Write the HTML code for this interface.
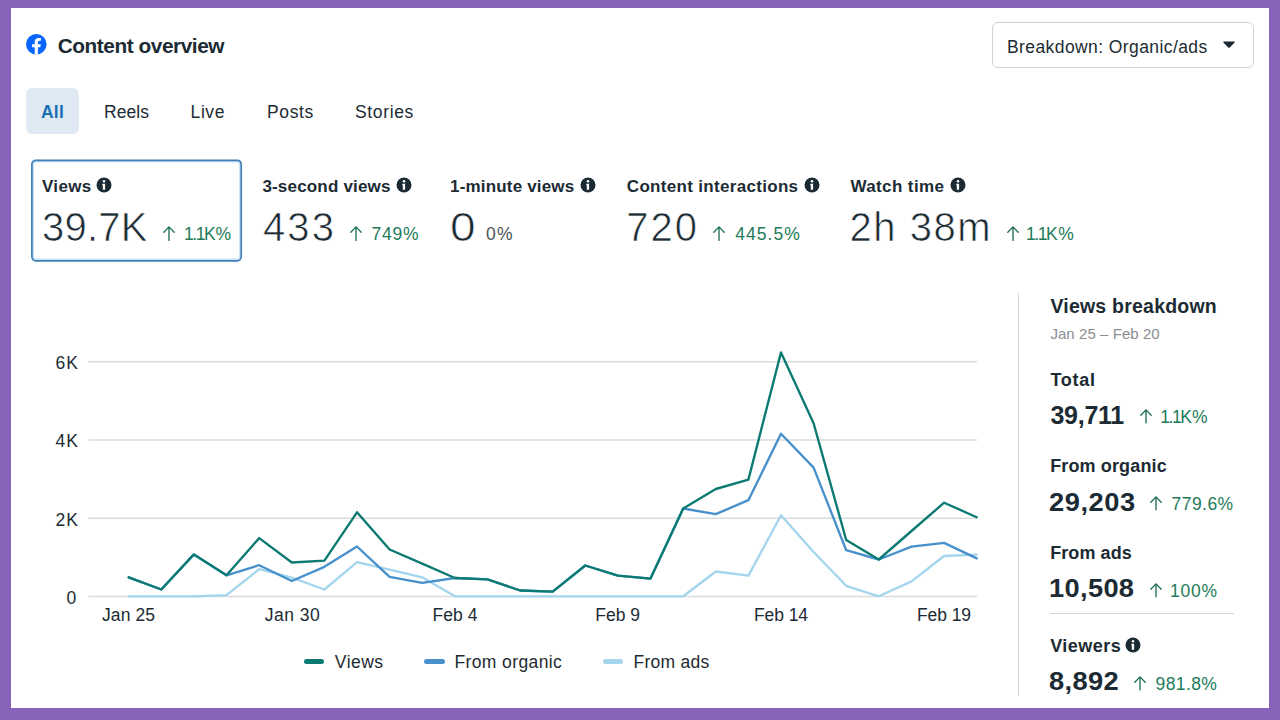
<!DOCTYPE html>
<html><head><meta charset="utf-8"><title>Content overview</title>
<style>
html,body{margin:0;padding:0}
body{width:1280px;height:720px;overflow:hidden;background:#8863ba;font-family:"Liberation Sans",sans-serif;position:relative}
.panel{position:absolute;left:11px;top:8px;width:1258px;height:700px;background:#fff}
.t{position:absolute;white-space:pre;line-height:1}
.a{position:absolute;overflow:visible}
.tab{position:absolute;left:26px;top:88px;width:53px;height:46px;border-radius:6px;background:#dfe9f3}
.dd{position:absolute;left:992px;top:22px;width:260px;height:44px;border:1px solid #ced2d6;border-radius:6px;background:#fff}
.vd{position:absolute;left:1018px;top:293px;width:1px;height:403px;background:#d3d6d9}
.hd{position:absolute;left:1049.5px;top:613px;width:184px;height:1px;background:#d3d6d9}
.lg{position:absolute;height:5px;width:20.5px;border-radius:3px;top:659px}
</style></head><body>
<div class="panel"></div>
<div class="tab"></div>
<div class="dd"></div>
<svg class="a" style="left:0;top:0" width="260" height="270" viewBox="0 0 260 270"><rect x="33.4" y="161.8" width="206.3" height="97.5" rx="2.8" fill="none" stroke="#c9e4fa" stroke-width="1.5"/><rect x="31.9" y="160.3" width="209.3" height="100.5" rx="4" fill="none" stroke="#3f7fb6" stroke-width="1.7"/></svg>
<div class="vd"></div><div class="hd"></div>
<svg class="a" style="left:26px;top:34.400px" width="20.6" height="20.6" viewBox="0 0 36 36"><circle cx="18" cy="18" r="18" fill="#0866ff"/><path d="M25 23l.8-5.2h-5v-3.4c0-1.4.7-2.8 2.9-2.8H26V7.2s-2.1-.4-4-.4c-4.100 0-6.800 2.500-6.800 7v4H10.600V23h4.600v12.800a18 18 0 005.600 0V23z" fill="#fff"/></svg>
<svg class="a" style="left:1222.5px;top:41.300px" width="12" height="7.4" viewBox="0 0 13 8"><path d="M1.200 0.600h10.600c.8 0 1.100.8.600 1.400L7.300 7.100c-.4.500-1.200.5-1.600 0L.6 2C.1 1.400.4.600 1.200.600z" fill="#1c2b33"/></svg>
<svg class="a" style="left:0;top:0" width="1280" height="720" viewBox="0 0 1280 720">
<g stroke="#d9dbdd" stroke-width="1.45"><path d="M88.300 361.700H977M88.300 440H977M88.300 518.300H977M88.300 596.400H977"/></g>
<g fill="none" stroke-width="2.35" stroke-linejoin="round" stroke-linecap="round">
<polyline stroke="#a4d5ee" points="128.7,596.3 161.3,596.3 193.9,596.3 226.5,595.2 259.2,569.2 291.8,577.7 324.4,589.5 357.0,562.1 389.6,569.6 422.2,577.3 454.9,596.3 487.5,596.3 520.1,596.3 552.7,596.3 585.3,596.3 617.9,596.3 650.5,596.3 683.2,596.3 715.8,571.5 748.4,575.6 781.0,515.2 813.6,552.0 846.2,585.8 878.8,596.3 911.5,581.4 944.1,556.0 976.7,554.6"/>
<polyline stroke="#4890cb" points="128.7,577.3 161.3,589.5 193.9,554.4 226.5,575.3 259.2,565.2 291.8,581.0 324.4,566.8 357.0,546.5 389.6,576.9 422.2,582.8 454.9,578.0 487.5,579.4 520.1,590.5 552.7,591.6 585.3,565.5 617.9,575.6 650.5,578.6 683.2,508.5 715.8,514.1 748.4,500.2 781.0,433.8 813.6,467.6 846.2,550.2 878.8,559.5 911.5,546.7 944.1,542.9 976.7,558.4"/>
<polyline stroke="#0b7a72" points="128.7,577.3 161.3,589.5 193.9,554.4 226.5,575.3 259.2,538.1 291.8,562.5 324.4,560.7 357.0,512.3 389.6,549.5 422.2,563.7 454.9,578.0 487.5,579.4 520.1,590.5 552.7,591.6 585.3,565.5 617.9,575.6 650.5,578.6 683.2,508.5 715.8,489.0 748.4,479.6 781.0,352.4 813.6,423.3 846.2,540.0 878.8,559.5 911.5,531.0 944.1,502.7 976.7,517.2"/>
</g></svg>
<div class="lg" style="left:303.800px;background:#0b7a72"></div>
<div class="lg" style="left:424px;background:#4890cb"></div>
<div class="lg" style="left:602.800px;background:#a4d5ee"></div>
<svg class="a" style="left:95.80px;top:177.10px" width="16" height="16" viewBox="0 0 16 16"><circle cx="8" cy="8" r="7.5" fill="#1c2b33"/><circle cx="8" cy="4.2" r="1.25" fill="#fff"/><path d="M6.300 6.800h2.8v6H6.800V8.200H6.300z" fill="#fff"/></svg>
<svg class="a" style="left:395.70px;top:177.10px" width="16" height="16" viewBox="0 0 16 16"><circle cx="8" cy="8" r="7.5" fill="#1c2b33"/><circle cx="8" cy="4.2" r="1.25" fill="#fff"/><path d="M6.300 6.800h2.8v6H6.800V8.200H6.300z" fill="#fff"/></svg>
<svg class="a" style="left:579.70px;top:177.10px" width="16" height="16" viewBox="0 0 16 16"><circle cx="8" cy="8" r="7.5" fill="#1c2b33"/><circle cx="8" cy="4.2" r="1.25" fill="#fff"/><path d="M6.300 6.800h2.8v6H6.800V8.200H6.300z" fill="#fff"/></svg>
<svg class="a" style="left:803.70px;top:177.10px" width="16" height="16" viewBox="0 0 16 16"><circle cx="8" cy="8" r="7.5" fill="#1c2b33"/><circle cx="8" cy="4.2" r="1.25" fill="#fff"/><path d="M6.300 6.800h2.8v6H6.800V8.200H6.300z" fill="#fff"/></svg>
<svg class="a" style="left:950.00px;top:177.10px" width="16" height="16" viewBox="0 0 16 16"><circle cx="8" cy="8" r="7.5" fill="#1c2b33"/><circle cx="8" cy="4.2" r="1.25" fill="#fff"/><path d="M6.300 6.800h2.8v6H6.800V8.200H6.300z" fill="#fff"/></svg>
<svg class="a" style="left:1125.20px;top:637.00px" width="16" height="16" viewBox="0 0 16 16"><circle cx="8" cy="8" r="7.5" fill="#1c2b33"/><circle cx="8" cy="4.2" r="1.25" fill="#fff"/><path d="M6.300 6.800h2.8v6H6.800V8.200H6.300z" fill="#fff"/></svg>
<svg class="a" style="left:162.20px;top:225.10px" width="14" height="17.1" viewBox="-1 -1 14 17.1"><path d="M6 14.4V0.9M0.8 6.300L6 0.9l5.2 5.4" fill="none" stroke="#1f7052" stroke-width="1.35" stroke-linecap="round" stroke-linejoin="round"/></svg>
<svg class="a" style="left:349.40px;top:225.10px" width="14" height="17.1" viewBox="-1 -1 14 17.1"><path d="M6 14.4V0.9M0.8 6.300L6 0.9l5.2 5.4" fill="none" stroke="#1f7052" stroke-width="1.35" stroke-linecap="round" stroke-linejoin="round"/></svg>
<svg class="a" style="left:712.00px;top:225.10px" width="14" height="17.1" viewBox="-1 -1 14 17.1"><path d="M6 14.4V0.9M0.8 6.300L6 0.9l5.2 5.4" fill="none" stroke="#1f7052" stroke-width="1.35" stroke-linecap="round" stroke-linejoin="round"/></svg>
<svg class="a" style="left:1005.70px;top:225.10px" width="14" height="17.1" viewBox="-1 -1 14 17.1"><path d="M6 14.4V0.9M0.8 6.300L6 0.9l5.2 5.4" fill="none" stroke="#1f7052" stroke-width="1.35" stroke-linecap="round" stroke-linejoin="round"/></svg>
<svg class="a" style="left:1139.40px;top:408.40px" width="14" height="16.5" viewBox="-1 -1 14 16.5"><path d="M6 13.8V0.9M0.8 6.300L6 0.9l5.2 5.4" fill="none" stroke="#1f7052" stroke-width="1.35" stroke-linecap="round" stroke-linejoin="round"/></svg>
<svg class="a" style="left:1148.70px;top:495.30px" width="14" height="16.5" viewBox="-1 -1 14 16.5"><path d="M6 13.8V0.9M0.8 6.300L6 0.9l5.2 5.4" fill="none" stroke="#1f7052" stroke-width="1.35" stroke-linecap="round" stroke-linejoin="round"/></svg>
<svg class="a" style="left:1148.70px;top:582.00px" width="14" height="16.5" viewBox="-1 -1 14 16.5"><path d="M6 13.8V0.9M0.8 6.300L6 0.9l5.2 5.4" fill="none" stroke="#1f7052" stroke-width="1.35" stroke-linecap="round" stroke-linejoin="round"/></svg>
<svg class="a" style="left:1133.20px;top:675.00px" width="14" height="16.5" viewBox="-1 -1 14 16.5"><path d="M6 13.8V0.9M0.8 6.300L6 0.9l5.2 5.4" fill="none" stroke="#1f7052" stroke-width="1.35" stroke-linecap="round" stroke-linejoin="round"/></svg>
<div class="t" style="left:57.70px;top:35.59px;font-size:20.8px;font-weight:700;color:#1c2b33;letter-spacing:-0.440px">Content overview</div>
<div class="t" style="left:41.00px;top:104.39px;font-size:17.5px;font-weight:700;color:#1b6fb3;letter-spacing:0.208px">All</div>
<div class="t" style="left:104.00px;top:104.39px;font-size:17.5px;font-weight:400;color:#1c2b33;letter-spacing:0.050px">Reels</div>
<div class="t" style="left:190.60px;top:104.39px;font-size:17.5px;font-weight:400;color:#1c2b33;letter-spacing:0.573px">Live</div>
<div class="t" style="left:267.10px;top:104.39px;font-size:17.5px;font-weight:400;color:#1c2b33;letter-spacing:0.604px">Posts</div>
<div class="t" style="left:355.00px;top:104.39px;font-size:17.5px;font-weight:400;color:#1c2b33;letter-spacing:0.647px">Stories</div>
<div class="t" style="left:1007.00px;top:38.59px;font-size:17.5px;font-weight:400;color:#1c2b33;letter-spacing:0.407px">Breakdown: Organic/ads</div>
<div class="t" style="left:42.00px;top:178.11px;font-size:17px;font-weight:700;color:#1c2b33;letter-spacing:0.342px">Views</div>
<div class="t" style="left:262.40px;top:178.11px;font-size:17px;font-weight:700;color:#1c2b33;letter-spacing:0.181px">3-second views</div>
<div class="t" style="left:450.00px;top:178.11px;font-size:17px;font-weight:700;color:#1c2b33;letter-spacing:0.180px">1-minute views</div>
<div class="t" style="left:626.80px;top:178.11px;font-size:17px;font-weight:700;color:#1c2b33;letter-spacing:0.315px">Content interactions</div>
<div class="t" style="left:850.40px;top:178.11px;font-size:17px;font-weight:700;color:#1c2b33;letter-spacing:0.395px">Watch time</div>
<div class="t" style="left:42.00px;top:207.34px;font-size:40px;font-weight:400;color:#1c2b33;letter-spacing:0.214px;-webkit-text-stroke:0.7px #fff">39.7K</div>
<div class="t" style="left:263.00px;top:207.34px;font-size:40px;font-weight:400;color:#1c2b33;letter-spacing:2.083px;-webkit-text-stroke:0.7px #fff">433</div>
<div class="t" style="left:450.40px;top:207.34px;font-size:40px;font-weight:400;color:#1c2b33;letter-spacing:0.150px;transform:scaleX(1.15);transform-origin:0 0;-webkit-text-stroke:0.7px #fff">0</div>
<div class="t" style="left:626.20px;top:207.34px;font-size:40px;font-weight:400;color:#1c2b33;letter-spacing:2.017px;-webkit-text-stroke:0.7px #fff">720</div>
<div class="t" style="left:849.60px;top:207.34px;font-size:40px;font-weight:400;color:#1c2b33;letter-spacing:1.496px;-webkit-text-stroke:0.7px #fff">2h 38m</div>
<div class="t" style="left:184.00px;top:226.39px;font-size:17.5px;font-weight:400;color:#237a59;letter-spacing:-0.164px"><span style="letter-spacing:-1.45px">1.1</span>K%</div>
<div class="t" style="left:371.60px;top:226.39px;font-size:17.5px;font-weight:400;color:#237a59;letter-spacing:0.759px">749%</div>
<div class="t" style="left:486.00px;top:226.39px;font-size:17.5px;font-weight:400;color:#4b5358;letter-spacing:1.352px">0%</div>
<div class="t" style="left:735.20px;top:226.39px;font-size:17.5px;font-weight:400;color:#237a59;letter-spacing:1.040px">445.5%</div>
<div class="t" style="left:1026.00px;top:226.39px;font-size:17.5px;font-weight:400;color:#237a59;letter-spacing:0.556px"><span style="letter-spacing:-1.45px">1.1</span>K%</div>
<div class="t" style="left:55.60px;top:355.19px;font-size:17.5px;font-weight:400;color:#1c2b33;letter-spacing:0.997px">6K</div>
<div class="t" style="left:55.60px;top:433.49px;font-size:17.5px;font-weight:400;color:#1c2b33;letter-spacing:0.997px">4K</div>
<div class="t" style="left:55.60px;top:511.79px;font-size:17.5px;font-weight:400;color:#1c2b33;letter-spacing:0.997px">2K</div>
<div class="t" style="left:66.40px;top:589.89px;font-size:17.5px;font-weight:400;color:#1c2b33;letter-spacing:1.566px">0</div>
<div class="t" style="left:102.00px;top:607.49px;font-size:17.5px;font-weight:400;color:#1c2b33;letter-spacing:0.076px">Jan 25</div>
<div class="t" style="left:264.80px;top:607.49px;font-size:17.5px;font-weight:400;color:#1c2b33;letter-spacing:0.476px">Jan 30</div>
<div class="t" style="left:432.60px;top:607.49px;font-size:17.5px;font-weight:400;color:#1c2b33;letter-spacing:0.010px">Feb 4</div>
<div class="t" style="left:595.20px;top:607.49px;font-size:17.5px;font-weight:400;color:#1c2b33;letter-spacing:0.010px">Feb 9</div>
<div class="t" style="left:754.00px;top:607.49px;font-size:17.5px;font-weight:400;color:#1c2b33;letter-spacing:-0.081px">Feb 14</div>
<div class="t" style="left:917.00px;top:607.49px;font-size:17.5px;font-weight:400;color:#1c2b33;letter-spacing:-0.081px">Feb 19</div>
<div class="t" style="left:334.80px;top:654.49px;font-size:17.5px;font-weight:400;color:#1c2b33;letter-spacing:0.485px">Views</div>
<div class="t" style="left:454.40px;top:654.49px;font-size:17.5px;font-weight:400;color:#1c2b33;letter-spacing:0.392px">From organic</div>
<div class="t" style="left:633.60px;top:654.49px;font-size:17.5px;font-weight:400;color:#1c2b33;letter-spacing:0.237px">From ads</div>
<div class="t" style="left:1050.40px;top:297.09px;font-size:19.5px;font-weight:700;color:#1c2b33;letter-spacing:0.220px">Views breakdown</div>
<div class="t" style="left:1050.40px;top:326.30px;font-size:15px;font-weight:400;color:#8a8d91;letter-spacing:0.065px">Jan 25 – Feb 20</div>
<div class="t" style="left:1050.40px;top:370.66px;font-size:18px;font-weight:700;color:#1c2b33;letter-spacing:0.746px">Total</div>
<div class="t" style="left:1050.40px;top:402.74px;font-size:25px;font-weight:700;color:#1c2b33;letter-spacing:-0.249px">39,711</div>
<div class="t" style="left:1160.20px;top:409.09px;font-size:17.5px;font-weight:400;color:#237a59;letter-spacing:0.276px"><span style="letter-spacing:-1.45px">1.1</span>K%</div>
<div class="t" style="left:1050.20px;top:457.46px;font-size:18px;font-weight:700;color:#1c2b33;letter-spacing:0.132px">From organic</div>
<div class="t" style="left:1049.44px;top:489.64px;font-size:25px;font-weight:700;color:#1c2b33;letter-spacing:0.521px;transform:scaleX(1.09);transform-origin:0 0">29,203</div>
<div class="t" style="left:1171.60px;top:495.99px;font-size:17.5px;font-weight:400;color:#237a59;letter-spacing:0.440px">779.6%</div>
<div class="t" style="left:1050.20px;top:543.86px;font-size:18px;font-weight:700;color:#1c2b33;letter-spacing:0.071px">From ads</div>
<div class="t" style="left:1049.44px;top:576.34px;font-size:25px;font-weight:700;color:#1c2b33;letter-spacing:0.308px;transform:scaleX(1.09);transform-origin:0 0">10,508</div>
<div class="t" style="left:1170.00px;top:582.69px;font-size:17.5px;font-weight:400;color:#237a59;letter-spacing:0.809px">100%</div>
<div class="t" style="left:1050.20px;top:636.76px;font-size:18px;font-weight:700;color:#1c2b33;letter-spacing:0.467px">Viewers</div>
<div class="t" style="left:1049.44px;top:669.24px;font-size:25px;font-weight:700;color:#1c2b33;letter-spacing:0.353px;transform:scaleX(1.09);transform-origin:0 0">8,892</div>
<div class="t" style="left:1155.60px;top:675.69px;font-size:17.5px;font-weight:400;color:#237a59;letter-spacing:0.373px">981.8%</div>
</body></html>
